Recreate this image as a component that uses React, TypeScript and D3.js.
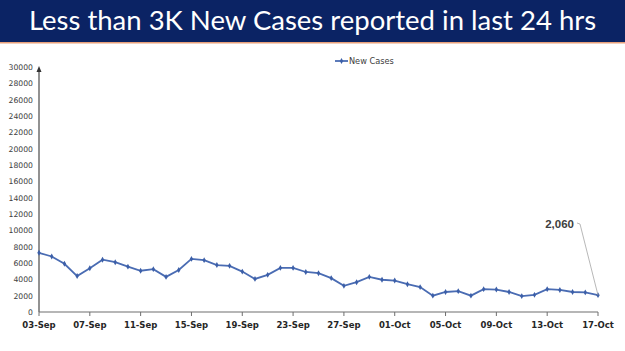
import React, { useEffect, useRef } from "react";
import * as d3 from "d3";

// daily new cases, 03-Sep to 17-Oct
const septCases = [
  7250, 6800, 5900, 4400, 5350, 6400, 6100, 5550, 5050, 5250, 4300, 5150, 6500, 6350,
  5750, 5650, 4950, 4050, 4550, 5400, 5400, 4900, 4750, 4150, 3200, 3650, 4300, 3950,
];
const octCases = [
  3850, 3400, 3050, 2000, 2450, 2550, 2000, 2800, 2750, 2450, 1950, 2100, 2800, 2700,
  2450, 2400, 2060,
];
const yTicks = d3.range(0, 30001, 2000);
const seriesName = "New Cases";
const titleText = "Less than 3K New Cases reported in last 24 hrs";

const fmtDay = (i: number) => {
  const d = new Date(2020, 8, 3 + i);
  return d3.timeFormat("%d-%b")(d);
};

const cases = [...septCases, ...octCases];

export default function App() {
  const ref = useRef<SVGSVGElement>(null);

  useEffect(() => {
    const W = 625,
      H = 351;
    const svg = d3.select(ref.current);
    svg.selectAll("*").remove();

    // banner
    svg.append("rect").attr("x", 0).attr("y", 0).attr("width", W).attr("height", 42).attr("fill", "#0b2364");
    svg.append("rect").attr("x", 0).attr("y", 42).attr("width", W).attr("height", 1.5).attr("fill", "#e8a07a");
    svg
      .append("text")
      .attr("x", W / 2)
      .attr("y", 30)
      .attr("text-anchor", "middle")
      .attr("fill", "#ffffff")
      .attr("font-family", "Lato, 'Open Sans', sans-serif")
      .attr("font-size", 27.5)
      .text(titleText);

    const x = d3.scaleLinear().domain([0, cases.length - 1]).range([39, 598]);
    const y = d3.scaleLinear().domain([0, 30000]).range([312, 67]);

    // y axis
    const gy = svg.append("g");
    gy.append("line")
      .attr("x1", 39).attr("x2", 39).attr("y1", 312).attr("y2", 70)
      .attr("stroke", "#6e6e6e").attr("stroke-width", 1.5);
    gy.append("path")
      .attr("d", "M39,66 L36.5,72 L41.5,72 Z")
      .attr("fill", "#333");
    gy.selectAll("text.yl")
      .data(yTicks)
      .enter()
      .append("text")
      .attr("x", 33)
      .attr("y", (d) => y(d) + 3)
      .attr("text-anchor", "end")
      .attr("font-family", "'DejaVu Sans', sans-serif")
      .attr("font-size", 7.7)
      .attr("fill", "#404040")
      .text((d) => String(d));

    // x axis
    const gx = svg.append("g");
    gx.append("line")
      .attr("x1", 39).attr("x2", 598).attr("y1", 312).attr("y2", 312)
      .attr("stroke", "#6e6e6e").attr("stroke-width", 1.2);
    const xt = d3.range(0, cases.length, 4);
    gx.selectAll("line.tk")
      .data(xt)
      .enter()
      .append("line")
      .attr("x1", (d) => x(d)).attr("x2", (d) => x(d))
      .attr("y1", 312).attr("y2", 316)
      .attr("stroke", "#6e6e6e");
    gx.selectAll("text.xl")
      .data(xt)
      .enter()
      .append("text")
      .attr("x", (d) => x(d))
      .attr("y", 328)
      .attr("text-anchor", "middle")
      .attr("font-family", "'DejaVu Sans', sans-serif")
      .attr("font-weight", "bold")
      .attr("font-size", 8.5)
      .attr("fill", "#262626")
      .text((d) => fmtDay(d));

    // line
    const color = "#4a6cb3";
    svg
      .append("path")
      .datum(cases)
      .attr("fill", "none")
      .attr("stroke", color)
      .attr("stroke-width", 1.8)
      .attr("d", d3.line<number>().x((_, i) => x(i)).y((d) => y(d)));
    svg
      .selectAll("path.mk")
      .data(cases)
      .enter()
      .append("path")
      .attr("d", d3.symbol(d3.symbolDiamond, 10)())
      .attr("transform", (d, i) => `translate(${x(i)},${y(d)})`)
      .attr("fill", "#3c5fa8");

    // annotation for last point
    const last = cases.length - 1;
    svg
      .append("polyline")
      .attr("points", `577,223 580,224 ${x(last)},${y(cases[last])}`)
      .attr("fill", "none")
      .attr("stroke", "#a6a6a6")
      .attr("stroke-width", 0.8);
    svg
      .append("text")
      .attr("x", 574)
      .attr("y", 228)
      .attr("text-anchor", "end")
      .attr("font-family", "'Liberation Sans', Arial, sans-serif")
      .attr("font-weight", "bold")
      .attr("font-size", 11.5)
      .attr("fill", "#404040")
      .text(d3.format(",")(cases[last]));

    // legend
    const lg = svg.append("g");
    lg.append("line").attr("x1", 335).attr("x2", 348).attr("y1", 61).attr("y2", 61).attr("stroke", color).attr("stroke-width", 1.8);
    lg.append("path").attr("d", d3.symbol(d3.symbolDiamond, 10)()).attr("transform", "translate(341.5,61)").attr("fill", "#3c5fa8");
    lg.append("text")
      .attr("x", 349)
      .attr("y", 64)
      .attr("font-family", "'DejaVu Sans', sans-serif")
      .attr("font-size", 8.2)
      .attr("fill", "#404040")
      .text(seriesName);
  }, []);

  return (
    <svg
      ref={ref}
      width={625}
      height={351}
      style={{ position: "absolute", left: 0, top: 0, background: "#fff" }}
    />
  );
}
